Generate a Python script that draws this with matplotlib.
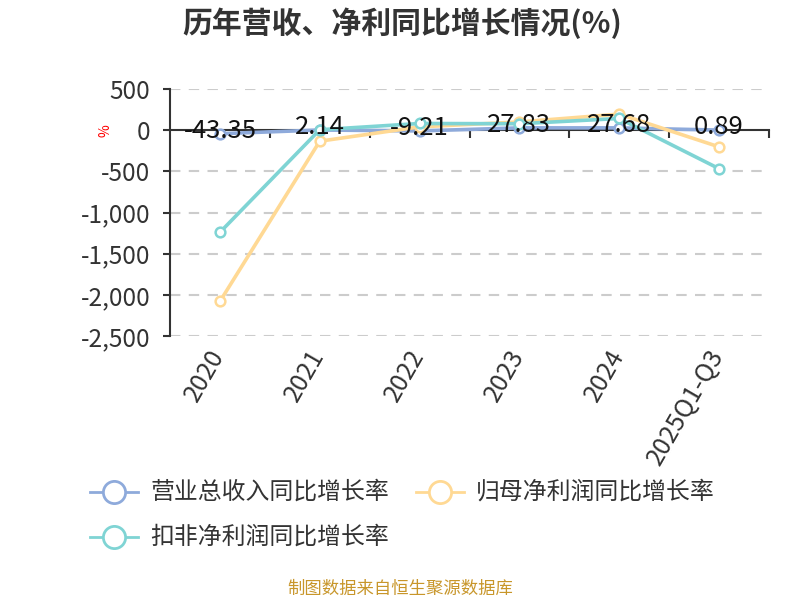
import matplotlib
matplotlib.use("Agg")
import matplotlib.pyplot as plt
from matplotlib.lines import Line2D
from matplotlib.ticker import FuncFormatter, FixedLocator, NullFormatter
import matplotlib.transforms as mtransforms

plt.rcParams['font.family'] = ['Noto Sans CJK SC', 'DejaVu Sans']

categories = ['2020', '2021', '2022', '2023', '2024', '2025Q1-Q3']
revenue_growth = [-43.35, 2.14, -9.21, 27.83, 27.68, 0.89]
net_profit_growth = [-2080, -134, 40, 100, 195, -203]
deducted_profit_growth = [-1241, 5, 81, 78, 142, -468]
yticks = [500, 0, -500, -1000, -1500, -2000, -2500]

series_names = ['营业总收入同比增长率', '归母净利润同比增长率', '扣非净利润同比增长率']
colors = ['#8eaadb', '#ffd994', '#7fd4d4']

W, H = 800, 600
fig = plt.figure(figsize=(8, 6), dpi=100)
fig.patch.set_facecolor('white')

left, right, top, bottom = 170, 769, 89, 336
ax = fig.add_axes([left / W, 1 - bottom / H, (right - left) / W, (bottom - top) / H])
ax.set_xlim(-0.5, len(categories) - 0.5)
ax.set_ylim(-2500, 500)

for s in ['top', 'right']:
    ax.spines[s].set_visible(False)
ax.spines['bottom'].set_position(('data', 0))
ax.spines['bottom'].set_color('#333333')
ax.spines['bottom'].set_linewidth(1.5)
ax.spines['left'].set_color('#333333')
ax.spines['left'].set_linewidth(1.5)

ax.set_yticks(yticks)
ax.yaxis.set_major_formatter(FuncFormatter(lambda v, p: f"{int(v):,}"))
ax.tick_params(axis='y', direction='out', length=5, width=1.5, color='#333333',
               labelsize=17.5, labelcolor='#333333', pad=9)
for t in yticks:
    if t != 0:
        ax.axhline(t, color='#cccccc', linestyle=(0, (5, 4)), linewidth=1.5, zorder=0)

xs = list(range(len(categories)))
ax.xaxis.set_major_locator(FixedLocator([i - 0.5 for i in range(1, len(categories) + 1)]))
ax.xaxis.set_major_formatter(NullFormatter())
ax.tick_params(axis='x', direction='out', length=6, width=1.5, color='#333333')

trans = mtransforms.blended_transform_factory(ax.transData, fig.transFigure)
for i, c in enumerate(categories):
    ax.text(i - 0.01, 1 - 351 / H, c, transform=trans, rotation=60, rotation_mode='anchor',
            ha='right', va='center', fontsize=18, color='#333333', clip_on=False)

for vals, col, z in zip([revenue_growth, net_profit_growth, deducted_profit_growth], colors, [3, 4, 5]):
    ax.plot(xs, vals, color=col, linewidth=2.6, marker='o', markersize=7,
            markerfacecolor='white', markeredgecolor=col, markeredgewidth=1.8, zorder=z, clip_on=False)

for i, v in enumerate(revenue_growth):
    ax.annotate(f"{v:.2f}", (i, v), xytext=(0, 2), textcoords='offset points',
                ha='center', va='center', fontsize=18.5, color='#111111', zorder=10)

fig.text(105 / W, 1 - 131 / H, '%', color='red', rotation=90, ha='center', va='center', fontsize=10)

fig.text(402 / W, 1 - 23 / H, '历年营收、净利同比增长情况(%)', ha='center', va='center',
         fontsize=21.5, fontweight='bold', color='#333333')

legend_pos = [(90, 492), (416, 492), (90, 537)]
for (lx, ly), name, col in zip(legend_pos, series_names, colors):
    yf = 1 - ly / H
    fig.add_artist(Line2D([lx / W, (lx + 48) / W], [yf, yf], transform=fig.transFigure,
                          color=col, linewidth=2))
    fig.add_artist(Line2D([(lx + 24) / W], [yf], transform=fig.transFigure, marker='o',
                          markersize=16, markerfacecolor='white', markeredgecolor=col,
                          markeredgewidth=2, linestyle='none'))
    fig.text((lx + 60) / W, yf, name, ha='left', va='center', fontsize=17.2, color='#333333')

fig.text(400 / W, 1 - 589 / H, '制图数据来自恒生聚源数据库', ha='center', va='center',
         fontsize=12.5, color='#c8962a')

fig.savefig('out.png', dpi=100, facecolor='white')
